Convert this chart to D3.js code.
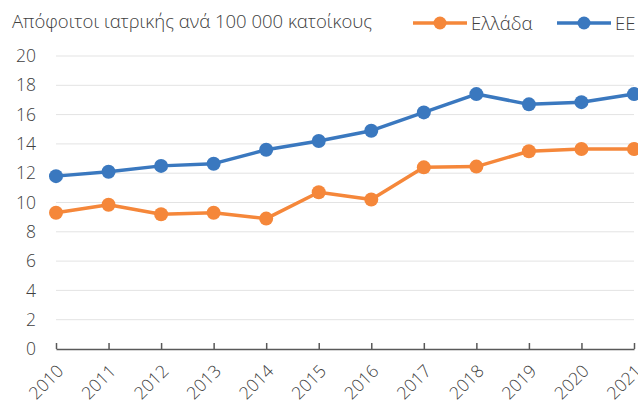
<!DOCTYPE html>
<html>
<head>
<meta charset="utf-8">
<script src="https://cdn.jsdelivr.net/npm/d3@7"></script>
<style>
  body { margin: 0; background: #fff; }
  text { font-family: "Open Sans", sans-serif; fill: #404040; font-weight: 300; }
</style>
</head>
<body>
<div class="chart"></div>
<script>
// data
var years = ["2010", "2011", "2012", "2013", "2014", "2015", "2016", "2017", "2018", "2019", "2020", "2021"];
var greece = [9.3, 9.85, 9.2, 9.3, 8.9, 10.7, 10.2, 12.4, 12.45, 13.5, 13.65, 13.65];
var eu = [11.8, 12.1, 12.5, 12.65, 13.6, 14.2, 14.9, 16.15, 17.4, 16.7, 16.85, 17.4];
var yTicks = [0, 2, 4, 6, 8, 10, 12, 14, 16, 18, 20];
var title = "Απόφοιτοι ιατρικής ανά 100 000 κατοίκους";
var seriesNames = ["Ελλάδα", "ΕΕ"];
var colors = ["#F5873A", "#3A78BF"];

var svgWidth = 638;
var svgHeight = 405;
var margin = { top: 56, right: 4, bottom: 56, left: 56 };
var width = svgWidth - margin.left - margin.right;
var height = svgHeight - margin.top - margin.bottom;

var svg = d3.select(".chart")
  .append("svg")
  .attr("width", svgWidth)
  .attr("height", svgHeight);

var chart = svg.append("g")
  .attr("transform", `translate(${margin.left}, ${margin.top})`);

var x = d3.scalePoint()
  .domain(years)
  .range([0, width]);

var y = d3.scaleLinear()
  .domain([0, 20])
  .range([height, 0]);

// gridlines
chart.append("g")
  .selectAll("line")
  .data(yTicks.filter(function(d) { return d > 0; }))
  .enter().append("line")
  .attr("x1", 0)
  .attr("x2", width)
  .attr("y1", function(d) { return y(d); })
  .attr("y2", function(d) { return y(d); })
  .attr("stroke", "#e3e3e3")
  .attr("stroke-width", 1);

// y axis labels (no line)
var yAxis = chart.append("g")
  .call(d3.axisLeft(y).tickValues(yTicks).tickSize(0).tickPadding(20));
yAxis.select(".domain").remove();
yAxis.selectAll("text")
  .style("font-size", "17.5px")
  .attr("fill", "#404040");

// x axis
var xAxis = chart.append("g")
  .attr("transform", "translate(0," + height + ")")
  .call(d3.axisBottom(x).tickSizeInner(-6).tickSizeOuter(0));
xAxis.select(".domain").attr("stroke", "#595959").attr("stroke-width", 1.5);
xAxis.selectAll(".tick line").attr("stroke", "#595959").attr("stroke-width", 1.5);
xAxis.selectAll("text")
  .style("font-size", "17.5px")
  .attr("fill", "#404040")
  .style("text-anchor", "end")
  .attr("dx", 0)
  .attr("dy", 0)
  .attr("transform", "translate(6,21) rotate(-45)");

// lines and markers
var line = d3.line()
  .x(function(d, i) { return x(years[i]); })
  .y(function(d) { return y(d); });

[greece, eu].forEach(function(series, k) {
  chart.append("path")
    .datum(series)
    .attr("fill", "none")
    .attr("stroke", colors[k])
    .attr("stroke-width", 3.5)
    .attr("stroke-linejoin", "round")
    .attr("d", line);

  chart.append("g")
    .selectAll("circle")
    .data(series)
    .enter().append("circle")
    .attr("cx", function(d, i) { return x(years[i]); })
    .attr("cy", function(d) { return y(d); })
    .attr("r", 7)
    .attr("fill", colors[k]);
});

// title
svg.append("text")
  .attr("x", 12)
  .attr("y", 28)
  .style("font-size", "18.5px")
  .text(title);

// legend
var legendX = [413, 557];
var legend = svg.append("g")
  .selectAll("g")
  .data(seriesNames)
  .enter().append("g")
  .attr("transform", function(d, i) { return "translate(" + legendX[i] + ",23)"; });

legend.append("line")
  .attr("x1", 0)
  .attr("x2", 54)
  .attr("stroke", function(d, i) { return colors[i]; })
  .attr("stroke-width", 3.5);

legend.append("circle")
  .attr("cx", 27)
  .attr("r", 6.5)
  .attr("fill", function(d, i) { return colors[i]; });

legend.append("text")
  .attr("x", 58)
  .attr("y", 6.5)
  .style("font-size", "18.5px")
  .text(function(d) { return d; });
</script>
</body>
</html>
